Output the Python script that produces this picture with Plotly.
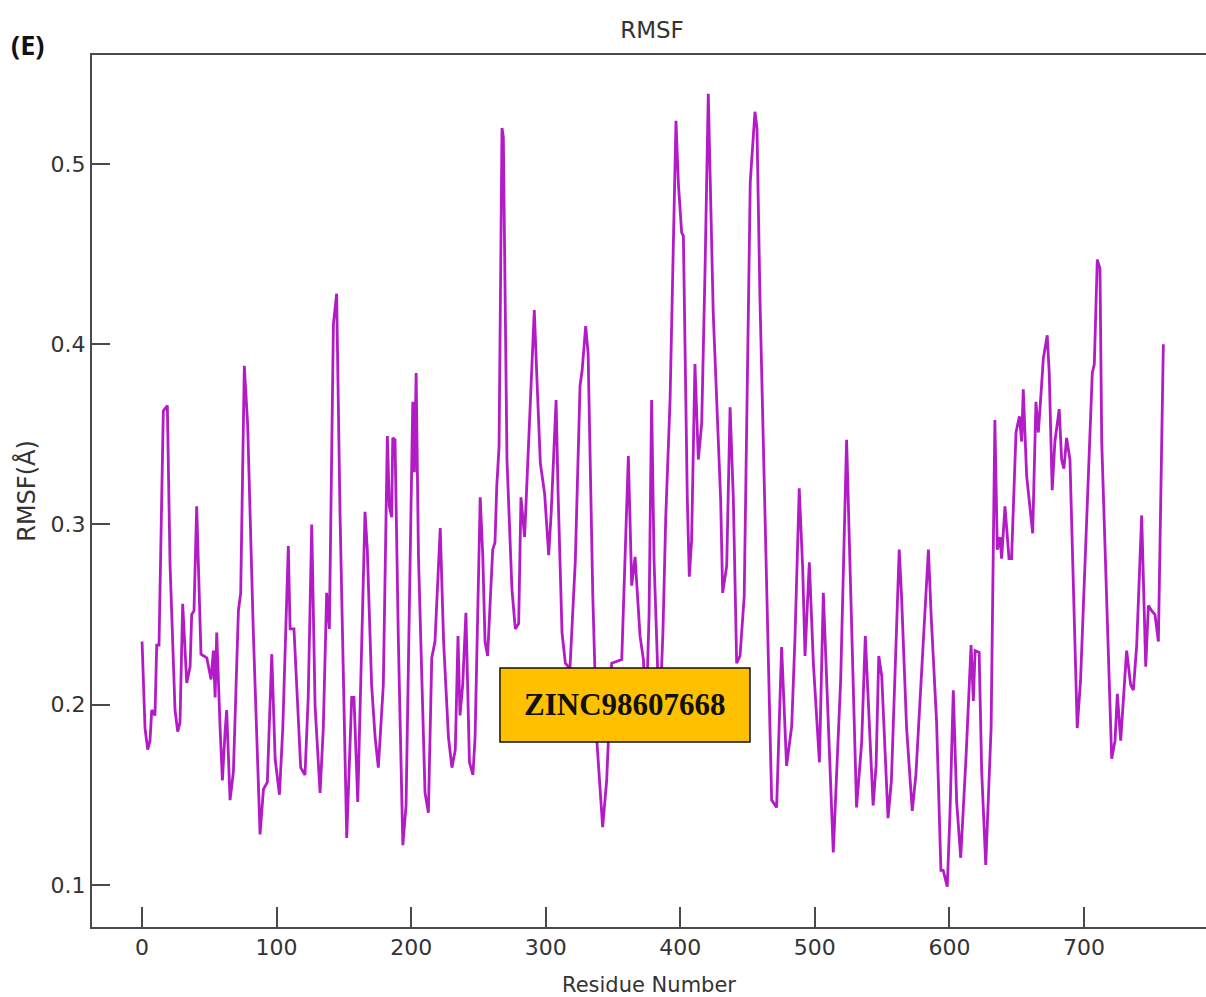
import plotly.graph_objects as go

# Residue numbers and RMSF values (Å)
residues = [
    0, 2.2, 4.2, 5.9, 7.2, 9.6, 10.9, 12.6, 15.8, 18.8, 20.8, 24.5, 26.5, 28.2, 30.2, 33.2, 35.7, 36.9, 38.6, 40.6,
    43.8, 48.1, 51.3, 53.0, 54.3, 55.5, 58.0, 59.7, 61.7, 62.9, 65.4, 67.9, 71.6, 73.3, 76.0, 78.5, 82.7, 87.7, 90.2, 93.1,
    96.4, 98.9, 102.1, 104.6, 108.7, 110.0, 112.9, 114.9, 117.9, 121.1, 123.5, 126.1, 128.6, 132.3, 134.7, 137.2, 139.2, 142.2, 144.6, 147.1,
    152.1, 155.8, 157.5, 160.3, 165.7, 167.4, 170.6, 173.2, 175.6, 179.3, 182.3, 183.8, 185.5, 186.3, 188.0, 190.5, 193.0, 193.8, 196.2, 198.0,
    201.2, 202.4, 203.7, 205.4, 207.9, 210.3, 212.8, 215.3, 217.7, 221.6, 224.1, 227.7, 230.3, 232.8, 234.8, 236.3, 238.3, 240.7, 243.3, 245.9,
    247.5, 251.3, 253.2, 254.9, 256.8, 258.6, 260.6, 262.3, 263.6, 265.3, 267.5, 268.5, 271.2, 274.9, 277.4, 279.9, 281.6, 284.3, 287.3, 291.5,
    293.5, 296.0, 299.2, 302.2, 304.1, 307.7, 309.2, 312.1, 314.6, 318.0, 322.0, 325.5, 327.0, 329.7, 331.5, 335.0, 338.0, 342.3, 345.3, 349.0,
    356.5, 361.4, 363.9, 366.4, 370.1, 372.6, 374.5, 376.8, 378.7, 380.5, 384.5, 387.1, 389.2, 392.4, 396.8, 398.6, 401.0, 402.3, 405.2, 406.7,
    408.4, 410.9, 413.4, 415.9, 418.4, 420.8, 424.5, 430.0, 431.5, 434.5, 437.0, 439.4, 441.9, 444.4, 447.5, 452.0, 455.5, 457.0, 459.2, 461.7,
    467.9, 471.6, 475.3, 479.0, 482.8, 485.2, 488.4, 491.0, 492.7, 495.9, 498.9, 503.4, 506.3, 513.7, 519.2, 523.6, 531.0, 534.8, 537.5, 543.3,
    545.5, 547.5, 549.7, 554.4, 556.9, 562.7, 564.5, 568.2, 572.4, 575.1, 580.2, 584.4, 586.4, 590.5, 593.7, 595.4, 598.4, 600.4, 602.9, 605.4,
    608.4, 612.3, 616.1, 617.8, 619.1, 622.1, 624.0, 627.0, 631.0, 633.8, 635.6, 637.6, 638.8, 641.3, 644.3, 646.2, 649.5, 652.0, 653.7, 654.9,
    657.4, 661.9, 664.3, 666.1, 668.5, 669.8, 672.7, 674.2, 676.4, 678.4, 681.6, 683.4, 685.1, 687.1, 689.6, 695.0, 697.5, 706.2, 707.7, 709.9,
    711.9, 712.4, 713.2, 720.6, 723.1, 724.8, 727.3, 731.7, 734.7, 736.7, 739.2, 742.9, 745.9, 747.9, 750.4, 752.8, 755.3, 759.0,
]
rmsf = [
    0.235, 0.187, 0.175, 0.180, 0.197, 0.194, 0.233, 0.233, 0.363, 0.366, 0.278, 0.197, 0.185, 0.190, 0.256, 0.212, 0.221, 0.250, 0.252, 0.310,
    0.228, 0.226, 0.214, 0.230, 0.204, 0.240, 0.187, 0.158, 0.185, 0.197, 0.147, 0.163, 0.252, 0.262, 0.388, 0.355, 0.240, 0.128, 0.153, 0.157,
    0.228, 0.170, 0.150, 0.187, 0.288, 0.242, 0.242, 0.209, 0.165, 0.161, 0.204, 0.300, 0.199, 0.151, 0.187, 0.262, 0.242, 0.411, 0.428, 0.307,
    0.126, 0.204, 0.204, 0.146, 0.307, 0.286, 0.211, 0.182, 0.165, 0.211, 0.349, 0.310, 0.304, 0.348, 0.347, 0.235, 0.145, 0.122, 0.144, 0.230,
    0.368, 0.329, 0.384, 0.283, 0.221, 0.151, 0.140, 0.226, 0.235, 0.298, 0.235, 0.182, 0.165, 0.175, 0.238, 0.194, 0.211, 0.251, 0.168, 0.161,
    0.182, 0.315, 0.283, 0.235, 0.227, 0.252, 0.286, 0.290, 0.321, 0.343, 0.520, 0.515, 0.336, 0.264, 0.242, 0.245, 0.315, 0.293, 0.346, 0.419,
    0.380, 0.334, 0.317, 0.283, 0.307, 0.369, 0.317, 0.240, 0.223, 0.220, 0.280, 0.377, 0.385, 0.410, 0.395, 0.260, 0.180, 0.132, 0.158, 0.223,
    0.225, 0.338, 0.266, 0.282, 0.238, 0.225, 0.190, 0.250, 0.369, 0.280, 0.190, 0.240, 0.304, 0.369, 0.524, 0.489, 0.462, 0.460, 0.315, 0.271,
    0.291, 0.389, 0.336, 0.356, 0.441, 0.539, 0.417, 0.314, 0.262, 0.277, 0.365, 0.315, 0.223, 0.227, 0.260, 0.490, 0.529, 0.520, 0.426, 0.343,
    0.147, 0.143, 0.232, 0.166, 0.188, 0.236, 0.320, 0.275, 0.227, 0.279, 0.223, 0.168, 0.262, 0.118, 0.214, 0.347, 0.143, 0.179, 0.238, 0.144,
    0.166, 0.227, 0.216, 0.137, 0.158, 0.286, 0.259, 0.187, 0.141, 0.161, 0.228, 0.286, 0.250, 0.190, 0.108, 0.108, 0.099, 0.139, 0.208, 0.146,
    0.115, 0.170, 0.233, 0.202, 0.230, 0.229, 0.163, 0.111, 0.187, 0.358, 0.286, 0.293, 0.281, 0.310, 0.281, 0.281, 0.351, 0.360, 0.346, 0.375,
    0.327, 0.295, 0.368, 0.351, 0.377, 0.392, 0.405, 0.384, 0.319, 0.346, 0.364, 0.336, 0.331, 0.348, 0.336, 0.187, 0.214, 0.384, 0.389, 0.447,
    0.442, 0.404, 0.346, 0.170, 0.180, 0.206, 0.180, 0.230, 0.211, 0.208, 0.233, 0.305, 0.221, 0.255, 0.252, 0.250, 0.235, 0.400,
]

x_ticks = [0, 100, 200, 300, 400, 500, 600, 700]
y_ticks = [0.1, 0.2, 0.3, 0.4, 0.5]
compound_label = "ZINC98607668"
panel_label = "(E)"

LINE = "#b31bc6"
AXIS = "#4a4a4a"
TXT = "#333333"
SANS = "DejaVu Sans, sans-serif"

fig = go.Figure()
fig.add_trace(go.Scatter(
    x=residues, y=rmsf, mode="lines",
    line=dict(color=LINE, width=2.8),
    showlegend=False, hoverinfo="skip",
))

fig.add_shape(
    type="rect", xref="x", yref="y",
    x0=266, x1=451.8, y0=0.1792, y1=0.2203,
    fillcolor="#FFC000", line=dict(color="#111111", width=1.5),
    layer="above",
)
fig.add_annotation(
    x=359, y=0.1998, xref="x", yref="y",
    text="<b>%s</b>" % compound_label, showarrow=False,
    font=dict(family="Liberation Serif, Times New Roman, serif", size=31, color="#111111"),
)
fig.add_annotation(
    x=-0.0575, y=1.0115, xref="paper", yref="paper",
    xanchor="center", yanchor="middle",
    text="<b>%s</b>" % panel_label, showarrow=False,
    font=dict(family="Open Sans, Noto Sans, sans-serif", size=27, color="#111111"),
)

fig.update_layout(
    width=1206, height=997, autosize=False,
    margin=dict(l=92, r=0, t=55, b=70),
    paper_bgcolor="white", plot_bgcolor="white",
    title=dict(text="RMSF", x=0.5027, xref="paper", y=0.97, yref="container",
               xanchor="center", yanchor="middle",
               font=dict(family=SANS, size=23, color=TXT)),
    font=dict(family=SANS, size=21, color=TXT),
)
fig.update_xaxes(
    range=[-37.2, 790.7], tickvals=x_ticks, ticktext=[str(v) for v in x_ticks],
    showgrid=False, zeroline=False,
    showline=True, linecolor=AXIS, linewidth=2, mirror=True,
    ticks="inside", ticklen=20, tickwidth=1.5, tickcolor=AXIS,
    tickfont=dict(family=SANS, size=22, color=TXT),
    title=dict(text="Residue Number", standoff=18,
               font=dict(family=SANS, size=21, color=TXT)),
)
fig.update_yaxes(
    range=[0.0766, 0.5605], tickvals=y_ticks, ticktext=[str(v) for v in y_ticks],
    showgrid=False, zeroline=False,
    showline=True, linecolor=AXIS, linewidth=2, mirror=False,
    ticks="inside", ticklen=18, tickwidth=1.5, tickcolor=AXIS,
    tickfont=dict(family=SANS, size=22, color=TXT),
    title=dict(text="RMSF(Å)", standoff=8,
               font=dict(family=SANS, size=24, color=TXT)),
)

post = ("document.body.style.margin='0';document.body.style.padding='0';"
        "document.body.style.overflow='hidden';"
        "Plotly.relayout(document.getElementById('{plot_id}'), {width:1206, height:997});")
fig.write_html("out.html", config={"responsive": False, "displayModeBar": False},
               post_script=post)
